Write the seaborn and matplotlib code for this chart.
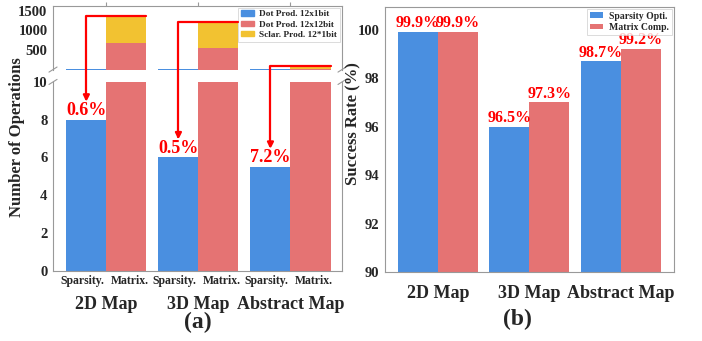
import numpy as np
import pandas as pd
import seaborn as sns
import matplotlib.pyplot as plt
from matplotlib.patches import Patch, ConnectionPatch

# data
maps = ["2D Map", "3D Map", "Abstract Map"]
methods = ["Sparsity.", "Matrix."]
sparsity_ops = [8, 6, 5.5]          # Dot Prod. 12x1bit
dot12x12_ops = [670, 550, 10]       # Dot Prod. 12x12bit
scalar_ops = [700, 670, 90]         # Sclar. Prod. 12*1bit
ops_labels = ["0.6%", "0.5%", "7.2%"]

rate_sparsity = [99.9, 96.0, 98.7]
rate_matrix = [99.9, 97.0, 99.2]
rate_sparsity_labels = ["99.9%", "96.5%", "98.7%"]
rate_matrix_labels = ["99.9%", "97.3%", "99.2%"]

blue = "#4A8FE0"
red = "#E57373"
yellow = "#F2C231"
gray = "#999999"

sns.set_style("white")
plt.rcParams["font.family"] = ["Liberation Serif", "DejaVu Serif"]
plt.rcParams["font.weight"] = "bold"
plt.rcParams["axes.labelweight"] = "bold"

totals = np.array(dot12x12_ops) + np.array(scalar_ops)
df_total = pd.DataFrame({
    "map": maps * 2,
    "method": ["Sparsity."] * 3 + ["Matrix."] * 3,
    "ops": list(sparsity_ops) + list(totals),
})
df_red = pd.DataFrame({
    "map": maps * 2,
    "method": ["Sparsity."] * 3 + ["Matrix."] * 3,
    "ops": list(sparsity_ops) + list(dot12x12_ops),
})
df_rate = pd.DataFrame({
    "map": maps * 2,
    "method": ["Sparsity Opti."] * 3 + ["Matrix Comp."] * 3,
    "rate": rate_sparsity + rate_matrix,
})

fig = plt.figure(figsize=(7.02, 3.41), dpi=100)
ax_top = fig.add_axes([0.0755, 0.796, 0.4117, 0.187])
ax_bot = fig.add_axes([0.0755, 0.2067, 0.4117, 0.553])
ax_b = fig.add_axes([0.5484, 0.2023, 0.4117, 0.778])

bar_kw = dict(x="map", y="ops", hue="method", order=maps, hue_order=methods,
              width=0.87, gap=0, legend=False, linewidth=0, errorbar=None,
              saturation=1)
for ax in (ax_top, ax_bot):
    sns.barplot(data=df_total, ax=ax, palette={"Sparsity.": blue, "Matrix.": yellow}, **bar_kw)
    sns.barplot(data=df_red, ax=ax, palette={"Sparsity.": blue, "Matrix.": red}, **bar_kw)
    ax.set_xlim(-0.58, 2.56)
    ax.set_xlabel("")
    ax.set_ylabel("")
    for s in ax.spines.values():
        s.set_color(gray)
        s.set_linewidth(0.8)
    ax.tick_params(axis="y", length=3, width=0.8, color=gray, labelsize=10.5, pad=1)

ax_top.set_ylim(0, 1620)
ax_top.set_yticks([500, 1000, 1500])
ax_top.spines["bottom"].set_visible(False)
ax_top.xaxis.tick_top()
ax_top.set_xticks(range(3))
ax_top.set_xticklabels([])
ax_top.tick_params(axis="x", length=3, width=0.8, color=gray)

ax_bot.set_ylim(0, 10)
ax_bot.set_yticks([0, 2, 4, 6, 8, 10])
ax_bot.spines["top"].set_visible(False)

# tick labels: bar names as minor (pushed apart a little), map names as major
blue_bars = ax_bot.containers[0]
red_bars = ax_bot.containers[3]
spread = 0.04
minor_pos = [r.get_x() + r.get_width() / 2 - spread for r in blue_bars] + \
            [r.get_x() + r.get_width() / 2 + spread for r in red_bars]
minor_lab = ["Sparsity."] * 3 + ["Matrix."] * 3
ax_bot.set_xticks(range(3))
ax_bot.set_xticklabels(maps, fontsize=13)
ax_bot.set_xticks(minor_pos, minor=True)
ax_bot.set_xticklabels(minor_lab, minor=True, fontsize=8.5)
ax_bot.tick_params(axis="x", which="major", length=2, width=0.8, color=gray, pad=16)
ax_bot.tick_params(axis="x", which="minor", length=0, pad=3)

ax_bot.set_ylabel("Number of Operations", fontsize=12)
ax_bot.yaxis.set_label_coords(-0.097, 0.71)

# break marks
dx = 0.014
for ax, dy, ys in ((ax_top, 0.04, 0), (ax_bot, 0.0135, 1)):
    for xs in (0, 1):
        ax.plot((xs - dx, xs + dx), (ys - dy, ys + dy), transform=ax.transAxes,
                color=gray, lw=0.8, clip_on=False)

# legend
handles = [Patch(color=blue, label="Dot Prod. 12x1bit"),
           Patch(color=red, label="Dot Prod. 12x12bit"),
           Patch(color=yellow, label="Sclar. Prod. 12*1bit")]
leg = ax_top.legend(handles=handles, loc="upper right", fontsize=6.7, frameon=True,
                    handlelength=1.4, handleheight=0.5, borderaxespad=0.2,
                    labelspacing=0.25, borderpad=0.3, fancybox=False,
                    handletextpad=0.6)
leg.get_frame().set_edgecolor("#cccccc")
leg.get_frame().set_linewidth(0.6)

# percentage labels and arrows
yellow_bars = ax_top.containers[1]
for rb, yb, txt in zip(blue_bars, yellow_bars, ops_labels):
    bx = rb.get_x() + rb.get_width() / 2
    by = rb.get_height()
    ax_bot.text(bx, by + 0.02, txt, color="red", fontsize=13, ha="center", va="bottom",
                fontweight="bold")
    con = ConnectionPatch(xyA=(yb.get_x() + yb.get_width(), yb.get_height()),
                          coordsA=ax_top.transData,
                          xyB=(bx, by + 0.95), coordsB=ax_bot.transData,
                          arrowstyle="-|>", connectionstyle="angle,angleA=0,angleB=90,rad=0",
                          color="red", lw=1.6, mutation_scale=9, shrinkA=0, shrinkB=0)
    fig.add_artist(con)

ax_bot.text(0.5, -0.275, "(a)", transform=ax_bot.transAxes, ha="center", va="center",
            fontsize=17, fontweight="bold")

# panel (b)
sns.barplot(data=df_rate, x="map", y="rate", hue="method", order=maps,
            hue_order=["Sparsity Opti.", "Matrix Comp."],
            palette={"Sparsity Opti.": blue, "Matrix Comp.": red},
            width=0.875, gap=0, linewidth=0, errorbar=None, saturation=1, ax=ax_b)
ax_b.set_ylim(90, 100.95)
ax_b.set_xlim(-0.58, 2.58)
ax_b.set_yticks([90, 92, 94, 96, 98, 100])
ax_b.set_xlabel("")
ax_b.set_ylabel("Success Rate (%)", fontsize=12)
ax_b.yaxis.set_label_coords(-0.08, 0.56)
for s in ax_b.spines.values():
    s.set_color(gray)
    s.set_linewidth(0.8)
ax_b.tick_params(axis="y", length=3, width=0.8, color=gray, labelsize=10.5, pad=1)
ax_b.tick_params(axis="x", length=3, width=0.8, color=gray, labelsize=13, pad=6)

for cont, labs in zip(ax_b.containers, [rate_sparsity_labels, rate_matrix_labels]):
    for r, t in zip(cont, labs):
        ax_b.text(r.get_x() + r.get_width() / 2, r.get_height() + 0.03, t, color="red",
                  fontsize=11.5, ha="center", va="bottom", fontweight="bold")

leg_b = ax_b.legend(loc="upper right", fontsize=7, frameon=True, handlelength=1.4,
                    handleheight=0.5, borderaxespad=0.2, labelspacing=0.25,
                    borderpad=0.3, fancybox=False, handletextpad=0.6)
leg_b.get_frame().set_edgecolor("#cccccc")
leg_b.get_frame().set_linewidth(0.6)

ax_b.text(0.46, -0.18, "(b)", transform=ax_b.transAxes, ha="center", va="center",
          fontsize=17, fontweight="bold")

fig.savefig("out.png", dpi=100)
